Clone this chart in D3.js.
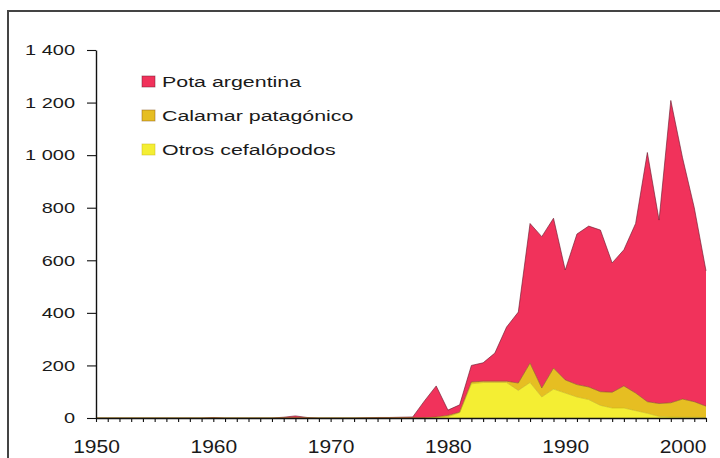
<!DOCTYPE html>
<html lang="es">
<head>
<meta charset="UTF-8">
<title>Capturas de cefalópodos</title>
<script src="https://d3js.org/d3.v7.min.js"></script>
<style>
    body { margin: 0; background: #fff; }
    svg { display: block; font-family: "Liberation Sans", Arial, sans-serif; }
</style>
</head>
<body>
<div id="chart"></div>
<script>
// años 1950 - 2002
var years = d3.range(1950, 2003);

// miles de toneladas
var otros = [
    0,0,0,0,0,0,0,0,0,0,          // 1950-59
    0,0,0,0,0,0,0,0,0,0,          // 1960-69
    0,0,0,0,0,0,0,0,0,2,          // 1970-79
    5,20,130,135,135,135,105,135,80,110,   // 1980-89
    95,80,70,48,38,38,28,18,6,4,  // 1990-99
    3,3,2                         // 2000-02
];
var calamar = [
    0,0,0,0,0,0,0,0,0,0,
    0,0,0,0,0,0,0,0,0,0,
    0,0,0,0,0,0,0,0,0,2,
    5,2,7,5,5,5,28,74,34,80,
    50,47,48,52,60,84,67,44,49,54,
    69,59,43
];
var pota = [
    0,0,0,0,0,0,0,0,0,0,
    2,0,0,0,0,0,3,8,2,0,
    0,0,0,1,2,2,3,4,65,118,
    20,28,63,70,107,206,270,531,576,570,
    418,573,612,615,492,518,645,948,698,1150,
    918,738,515
];

var keys = ["otros", "calamar", "pota"];
var colors = { otros: "#f4ee33", calamar: "#e6be22", pota: "#f1325b" };
var edges = { otros: "#c9b81a", calamar: "#8a5a1a", pota: "#6a1a2e" };

var yTicks = [0, 200, 400, 600, 800, 1000, 1200, 1400];
var yTickLabels = ["0", "200", "400", "600", "800", "1 000", "1 200", "1 400"];
var xLabelYears = [1950, 1960, 1970, 1980, 1990, 2000];

var legendItems = [
    { key: "pota", label: "Pota argentina" },
    { key: "calamar", label: "Calamar patagónico" },
    { key: "otros", label: "Otros cefalópodos" }
];

var rows = years.map(function(yr, i) {
    return { year: yr, otros: otros[i], calamar: calamar[i], pota: pota[i] };
});

var width = 720, height = 458;

var svg = d3.select("#chart").append("svg")
    .attr("width", width)
    .attr("height", height);

svg.append("rect").attr("width", width).attr("height", height).attr("fill", "#fff");

// marco
svg.append("path")
    .attr("d", "M8,458 L8,11 L720,11")
    .attr("fill", "none")
    .attr("stroke", "#444")
    .attr("stroke-width", 2);

var x = d3.scaleLinear().domain([1950, 2002]).range([96, 706]);
var y = d3.scaleLinear().domain([0, 1400]).range([418, 50]);

var series = d3.stack().keys(keys)(rows);

var area = d3.area()
    .x(function(d) { return x(d.data.year); })
    .y0(function(d) { return y(d[0]); })
    .y1(function(d) { return y(d[1]); });

var topLine = d3.line()
    .x(function(d) { return x(d.data.year); })
    .y(function(d) { return y(d[1]); });

svg.selectAll("path.layer")
    .data(series)
    .enter().append("path")
    .attr("class", "layer")
    .attr("d", area)
    .attr("fill", function(d) { return colors[d.key]; });

svg.selectAll("path.edge")
    .data(series.slice().reverse())
    .enter().append("path")
    .attr("class", "edge")
    .attr("d", topLine)
    .attr("fill", "none")
    .attr("stroke", function(d) { return edges[d.key]; })
    .attr("stroke-opacity", 0.7)
    .attr("stroke-width", 0.9);

// ejes
var yAxis = svg.append("g")
    .attr("transform", "translate(96,0)")
    .call(d3.axisLeft(y)
        .tickValues(yTicks)
        .tickSize(9)
        .tickSizeOuter(0)
        .tickPadding(12)
        .tickFormat(function(d, i) { return yTickLabels[i]; }));

var xAxis = svg.append("g")
    .attr("transform", "translate(0,418)")
    .call(d3.axisBottom(x)
        .tickValues(years)
        .tickSize(4)
        .tickSizeOuter(0)
        .tickFormat(function(d) { return xLabelYears.indexOf(d) >= 0 ? d : ""; }));

[yAxis, xAxis].forEach(function(g) {
    g.select(".domain").attr("stroke", "#111").attr("stroke-width", 1.4);
    g.selectAll(".tick line").attr("stroke", "#111").attr("stroke-width", 1.1);
});

yAxis.selectAll("text")
    .attr("font-size", 15)
    .attr("fill", "#1a1a1a")
    .attr("font-family", "Liberation Sans, Arial, sans-serif")
    .each(function() {
        var w = this.getComputedTextLength();
        d3.select(this).attr("textLength", w * 1.33).attr("lengthAdjust", "spacingAndGlyphs");
    });

xAxis.selectAll("text")
    .attr("font-size", 17.5)
    .attr("fill", "#1a1a1a")
    .attr("font-family", "Liberation Sans, Arial, sans-serif")
    .attr("y", 35)
    .attr("dy", 0)
    .each(function() {
        var w = this.getComputedTextLength();
        if (w > 0) d3.select(this).attr("textLength", w * 1.2).attr("lengthAdjust", "spacingAndGlyphs");
    });

// leyenda
var legend = svg.append("g");
var li = legend.selectAll("g")
    .data(legendItems)
    .enter().append("g")
    .attr("transform", function(d, i) { return "translate(142," + (81 + i * 34) + ")"; });

li.append("rect")
    .attr("x", 0).attr("y", -5)
    .attr("width", 13).attr("height", 11)
    .attr("fill", function(d) { return colors[d.key]; })
    .attr("stroke", function(d) { return edges[d.key]; })
    .attr("stroke-opacity", 0.6)
    .attr("stroke-width", 0.8);

li.append("text")
    .attr("x", 20)
    .attr("y", 0)
    .attr("dy", "0.36em")
    .attr("font-size", 15.5)
    .attr("fill", "#1a1a1a")
    .text(function(d) { return d.label; })
    .each(function() {
        var w = this.getComputedTextLength();
        d3.select(this).attr("textLength", w * 1.38).attr("lengthAdjust", "spacingAndGlyphs");
    });
</script>
</body>
</html>
